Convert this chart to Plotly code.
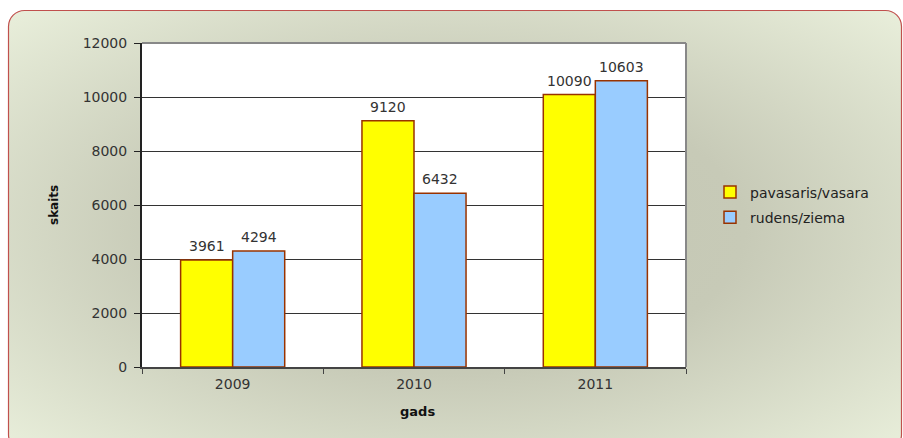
import base64
import plotly.graph_objects as go

years = ["2009", "2010", "2011"]
spring_summer = [3961, 9120, 10090]
autumn_winter = [4294, 6432, 10603]
series_names = ["pavasaris/vasara", "rudens/ziema"]
y_ticks = [0, 2000, 4000, 6000, 8000, 10000, 12000]
y_tick_text = [str(v) for v in y_ticks]

W, H = 903, 438
L, R, T, B = 142, 217, 43, 71
PW, PH = W - L - R, H - T - B

svg = f'''<svg xmlns="http://www.w3.org/2000/svg" width="{W}" height="{H}" viewBox="0 0 {W} {H}">
<defs><radialGradient id="g" cx="0.5" cy="0.5" r="0.72">
<stop offset="0" stop-color="#c3c6b2"/><stop offset="0.45" stop-color="#c7cab7"/>
<stop offset="1" stop-color="#eaf0dc"/></radialGradient></defs>
<rect x="8.5" y="10.5" width="893" height="440" rx="16" ry="16" fill="url(#g)" stroke="#c0504d" stroke-width="1.2"/>
</svg>'''
src = "data:image/svg+xml;base64," + base64.b64encode(svg.encode()).decode()

fig = go.Figure()
for name, vals, col, grp in [(series_names[0], spring_summer, "#ffff00", "a"),
                             (series_names[1], autumn_winter, "#99ccff", "b")]:
    fig.add_trace(go.Bar(x=years, y=vals, name=name, legendgroup=grp,
                         marker=dict(color=col, line=dict(color="#993300", width=1.5)),
                         hoverinfo="x+y+name"))

# value labels above the bars (category index on the x axis, shifted to each bar)
bar_px = 52
labels = []
for vals, dx in [(spring_summer, -bar_px / 2), (autumn_winter, bar_px / 2)]:
    for i, v in enumerate(vals):
        labels.append(dict(x=i, y=v, xref="x", yref="y", text=str(v), showarrow=False,
                           xshift=dx, yshift=14, yanchor="middle", xanchor="center",
                           font=dict(family="DejaVu Sans", size=14, color="#333333")))

fig.update_layout(
    width=W, height=H,
    margin=dict(l=L, r=R, t=T, b=B, pad=0),
    paper_bgcolor="white", plot_bgcolor="white",
    barmode="group", bargap=0.426, bargroupgap=0,
    font=dict(family="DejaVu Sans", size=14, color="#333333"),
    showlegend=True,
    legend=dict(x=(710 - L) / PW, y=0.5, xanchor="left", yanchor="middle",
                bgcolor="rgba(0,0,0,0)", font=dict(size=14, color="#222222"),
                itemwidth=30, traceorder="grouped", tracegroupgap=4),
    images=[dict(source=src, xref="paper", yref="paper",
                 x=-L / PW, y=1 + T / PH, sizex=W / PW, sizey=H / PH,
                 xanchor="left", yanchor="top", sizing="stretch", layer="below")],
    shapes=[
        dict(type="rect", xref="paper", yref="paper", x0=0, x1=1, y0=0, y1=1,
             fillcolor="white", line=dict(width=0), layer="below"),
        dict(type="line", xref="paper", yref="paper", x0=0, x1=1, y0=1, y1=1,
             line=dict(color="#888888", width=2), layer="above"),
        dict(type="line", xref="paper", yref="paper", x0=1, x1=1, y0=0, y1=1,
             line=dict(color="#888888", width=2), layer="above"),
    ],
    annotations=labels + [
        dict(text="<b>skaits</b>", xref="paper", yref="paper", x=(54 - L) / PW,
             y=1 - (205 - T) / PH, xanchor="center", yanchor="middle",
             textangle=-90, showarrow=False, font=dict(size=12, color="#111111")),
        dict(text="<b>gads</b>", xref="paper", yref="paper", x=(417 - L) / PW,
             y=1 - (411 - T) / PH, xanchor="center", yanchor="middle",
             showarrow=False, font=dict(size=13, color="#111111")),
    ],
)
fig.update_yaxes(range=[0, 12000], tickvals=y_ticks, ticktext=y_tick_text, showgrid=True,
                 gridcolor="#333333", gridwidth=1, showline=True, linecolor="#222222",
                 linewidth=2, ticks="outside", ticklen=6, tickcolor="#222222", zeroline=False,
                 ticklabelstandoff=4, tickfont=dict(size=14, color="#333333"))
fig.update_xaxes(type="category", range=[-0.5, len(years) - 0.5], showline=True,
                 linecolor="#444444", linewidth=2,
                 ticks="outside", tickson="boundaries", ticklen=5, tickcolor="#444444",
                 ticklabelstandoff=3, tickfont=dict(size=14, color="#333333"), showgrid=False)

fig.write_html("out.html", config={"displayModeBar": False},
               post_script="document.body.style.margin='0';")
